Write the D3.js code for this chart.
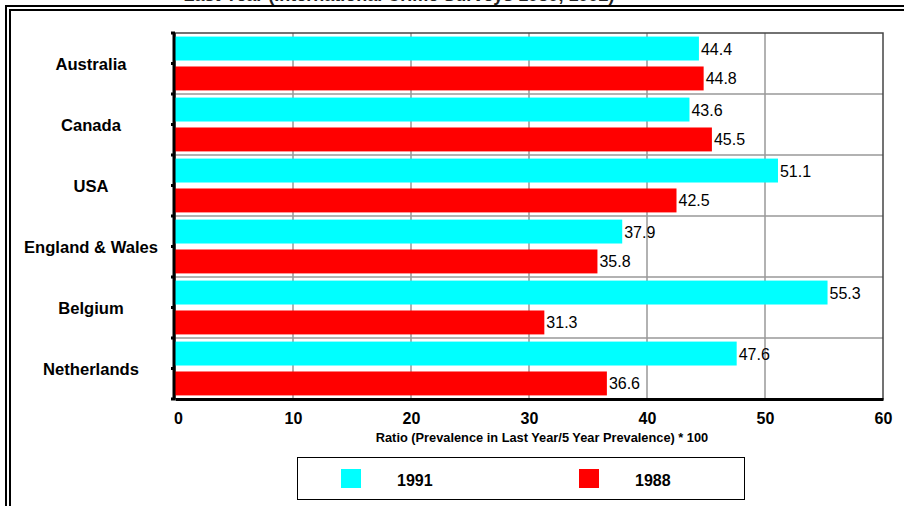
<!DOCTYPE html>
<html>
<head>
<meta charset="utf-8">
<script src="https://cdn.jsdelivr.net/npm/d3@7"></script>
<style>
	body { margin: 0; background: #fff; }
	svg { display: block; font-family: Arial, "Liberation Sans", sans-serif; }
</style>
</head>
<body>
<svg id="chart"></svg>
<script>
var countries = ["Australia", "Canada", "USA", "England & Wales", "Belgium", "Netherlands"];
var years = ["1991", "1988"];
var values1991 = [44.4, 43.6, 51.1, 37.9, 55.3, 47.6];
var values1988 = [44.8, 45.5, 42.5, 35.8, 31.3, 36.6];
var xTicks = [0, 10, 20, 30, 40, 50, 60];
var colors = ["#00FFFF", "#FF0000"];

var svg = d3.select("#chart").attr("width", 904).attr("height", 506),
	plot = {left: 175, right: 883, top: 33, bottom: 399};

var rows = [];
countries.forEach(function(c, i){
	rows.push({country: c, year: "1991", value: values1991[i]});
	rows.push({country: c, year: "1988", value: values1988[i]});
});

var xScale = d3.scaleLinear()
	.domain([0, 60])
	.range([plot.left, plot.right]);

var yScale = d3.scaleBand()
	.domain(countries)
	.range([plot.top, plot.bottom]);

var subScale = d3.scaleBand()
	.domain(years)
	.range([0, yScale.bandwidth()])
	.paddingInner(0.2)
	.paddingOuter(0.12);

var colorScale = d3.scaleOrdinal()
	.domain(years)
	.range(colors);

// outer double frame (cut by the window on right and bottom)
svg.append("rect")
	.attr("x", 6).attr("y", 6)
	.attr("width", 920).attr("height", 520)
	.attr("fill", "none")
	.attr("stroke", "black")
	.attr("stroke-width", 2);

svg.append("rect")
	.attr("x", 10).attr("y", 10)
	.attr("width", 920).attr("height", 520)
	.attr("fill", "none")
	.attr("stroke", "black")
	.attr("stroke-width", 2);

// title, mostly above the visible area
svg.append("text")
	.attr("x", 399)
	.attr("y", 1)
	.attr("text-anchor", "middle")
	.attr("font-weight", "bold")
	.attr("font-size", 18)
	.attr("fill", "#222")
	.text("Last Year (International Crime Surveys 1989, 1992)");

// grid
var grid = svg.append("g").attr("id", "grid");

grid.selectAll(".vgrid")
	.data(xTicks.slice(1, -1))
	.enter()
		.append("line")
		.attr("class", "vgrid")
		.attr("x1", function(d){ return xScale(d); })
		.attr("x2", function(d){ return xScale(d); })
		.attr("y1", plot.top)
		.attr("y2", plot.bottom)
		.attr("stroke", "#999")
		.attr("stroke-width", 1.5);

grid.selectAll(".hgrid")
	.data(countries.slice(1))
	.enter()
		.append("line")
		.attr("class", "hgrid")
		.attr("x1", plot.left)
		.attr("x2", plot.right)
		.attr("y1", function(d){ return yScale(d); })
		.attr("y2", function(d){ return yScale(d); })
		.attr("stroke", "#999")
		.attr("stroke-width", 1.5);

grid.append("rect")
	.attr("x", plot.left)
	.attr("y", plot.top)
	.attr("width", plot.right - plot.left)
	.attr("height", plot.bottom - plot.top)
	.attr("fill", "none")
	.attr("stroke", "#444")
	.attr("stroke-width", 1.5);

// bars
var bars = svg.append("g").attr("id", "bars");

bars.selectAll("rect")
	.data(rows)
	.enter()
		.append("rect")
		.attr("x", xScale(0))
		.attr("y", function(d){ return yScale(d.country) + subScale(d.year); })
		.attr("width", function(d){ return xScale(d.value) - xScale(0); })
		.attr("height", subScale.bandwidth())
		.attr("fill", function(d){ return colorScale(d.year); });

bars.selectAll("text")
	.data(rows)
	.enter()
		.append("text")
		.attr("x", function(d){ return xScale(d.value) + 2; })
		.attr("y", function(d){ return yScale(d.country) + subScale(d.year) + subScale.bandwidth()/2 + 6; })
		.attr("font-size", 16)
		.attr("fill", "black")
		.text(function(d){ return d.value.toFixed(1); });

// axes
svg.append("g")
	.attr("transform", "translate(0," + plot.bottom + ")")
	.call(d3.axisBottom(xScale).tickValues(xTicks).tickSize(0).tickPadding(14))
	.call(function(g){
		g.select(".domain").attr("stroke", "black").attr("stroke-width", 3);
		g.selectAll("text")
			.attr("font-family", "Arial, 'Liberation Sans', sans-serif")
			.attr("font-size", 16)
			.attr("font-weight", "bold")
			.attr("fill", "black")
			.attr("dx", function(d){ return d == 0 ? 3 : 0; });
	});

var halfTicks = [];
countries.forEach(function(c){
	halfTicks.push(yScale(c));
	halfTicks.push(yScale(c) + yScale.bandwidth()/2);
});
halfTicks.push(plot.bottom);

svg.append("line")
	.attr("x1", plot.left - 1).attr("x2", plot.left - 1)
	.attr("y1", plot.top).attr("y2", plot.bottom)
	.attr("stroke", "black")
	.attr("stroke-width", 3);

svg.selectAll(".ytick")
	.data(halfTicks)
	.enter()
		.append("line")
		.attr("class", "ytick")
		.attr("x1", plot.left - 4)
		.attr("x2", plot.left)
		.attr("y1", function(d){ return d; })
		.attr("y2", function(d){ return d; })
		.attr("stroke", "black")
		.attr("stroke-width", 3);

svg.selectAll(".ylabel")
	.data(countries)
	.enter()
		.append("text")
		.attr("class", "ylabel")
		.attr("x", 91)
		.attr("y", function(d){ return yScale(d) + yScale.bandwidth()/2 + 6; })
		.attr("text-anchor", "middle")
		.attr("font-size", 16.6)
		.attr("font-weight", "bold")
		.text(function(d){ return d; });

svg.append("text")
	.attr("x", 542)
	.attr("y", 442)
	.attr("text-anchor", "middle")
	.attr("font-size", 12.8)
	.attr("font-weight", "bold")
	.text("Ratio (Prevalence in Last Year/5 Year Prevalence) * 100");

// legend
var legend = svg.append("g").attr("id", "legend");

legend.append("rect")
	.attr("x", 297.5).attr("y", 457.5)
	.attr("width", 447).attr("height", 42)
	.attr("fill", "white")
	.attr("stroke", "black")
	.attr("stroke-width", 1);

var legendX = [341, 579];
var item = legend.selectAll(".item")
	.data(years)
	.enter()
		.append("g")
		.attr("class", "item")
		.attr("transform", function(d, i){ return "translate(" + legendX[i] + ",469)"; });

item.append("rect")
	.attr("width", 20)
	.attr("height", 19)
	.attr("fill", function(d){ return colorScale(d); });

item.append("text")
	.attr("x", 56)
	.attr("y", 17)
	.attr("font-size", 16)
	.attr("font-weight", "bold")
	.text(function(d){ return d; });
</script>
</body>
</html>
